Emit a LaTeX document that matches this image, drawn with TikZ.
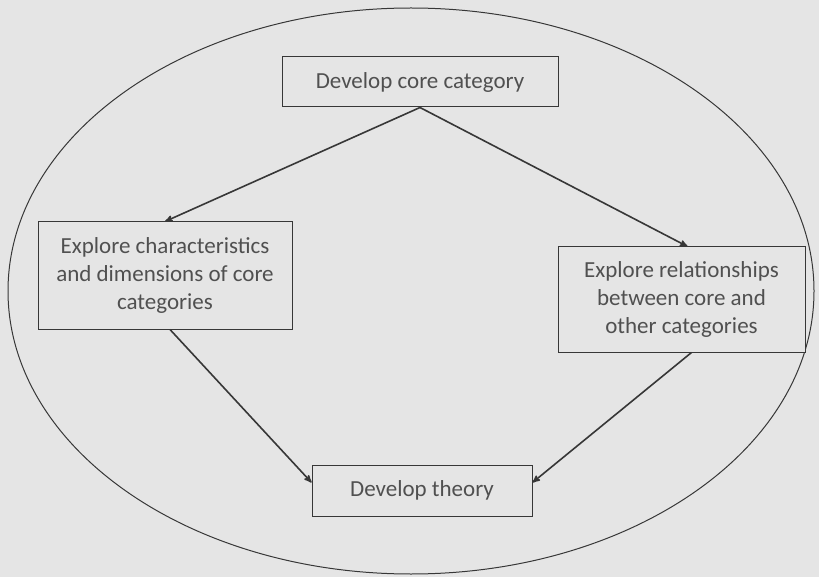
\documentclass[tikz,border=0pt]{standalone}
\usepackage{fontspec}
\setmainfont{Carlito}
\usepackage{xcolor}
\usepackage{tikz}
\usetikzlibrary{arrows}
\definecolor{bggray}{RGB}{229,229,229}
\definecolor{txtgray}{RGB}{80,80,80}
\definecolor{linegray}{RGB}{55,55,55}
\tikzset{stagebox/.style={draw=linegray, line width=1pt, fill=bggray, text=txtgray, align=center, inner sep=0pt, font=\fontsize{23}{28}\selectfont}}

\begin{document}
\begin{tikzpicture}[x=1pt, y=-1pt]
\fill[bggray] (0,0) rectangle (819,577);
\useasboundingbox (0,0) rectangle (819,577);
\draw[linegray, line width=1pt] (411,291) ellipse [x radius=403, y radius=283];
\node[stagebox, minimum width=276, minimum height=50] (core) at (420,82) {Develop core category};
\node[stagebox, minimum width=254, minimum height=107] (charac) at (165,275.5) {Explore characteristics\\and dimensions of core\\categories};
\node[stagebox, minimum width=247, minimum height=105] (relat) at (681.5,299.5) {Explore relationships\\between core and\\other categories};
\node[stagebox, minimum width=220, minimum height=51] (theory) at (422,490.5) {Develop theory};
\draw[linegray, line width=1.6pt, ->, >=stealth'] (core.south) -- (charac.north);
\draw[linegray, line width=1.6pt, ->, >=stealth'] (core.south) -- ([xshift=6]relat.north);
\draw[linegray, line width=1.6pt, ->, >=stealth'] ([xshift=5]charac.south) -- ([yshift=8]theory.west);
\draw[linegray, line width=1.6pt, ->, >=stealth'] ([xshift=10]relat.south) -- ([yshift=8]theory.east);
\end{tikzpicture}
\end{document}
